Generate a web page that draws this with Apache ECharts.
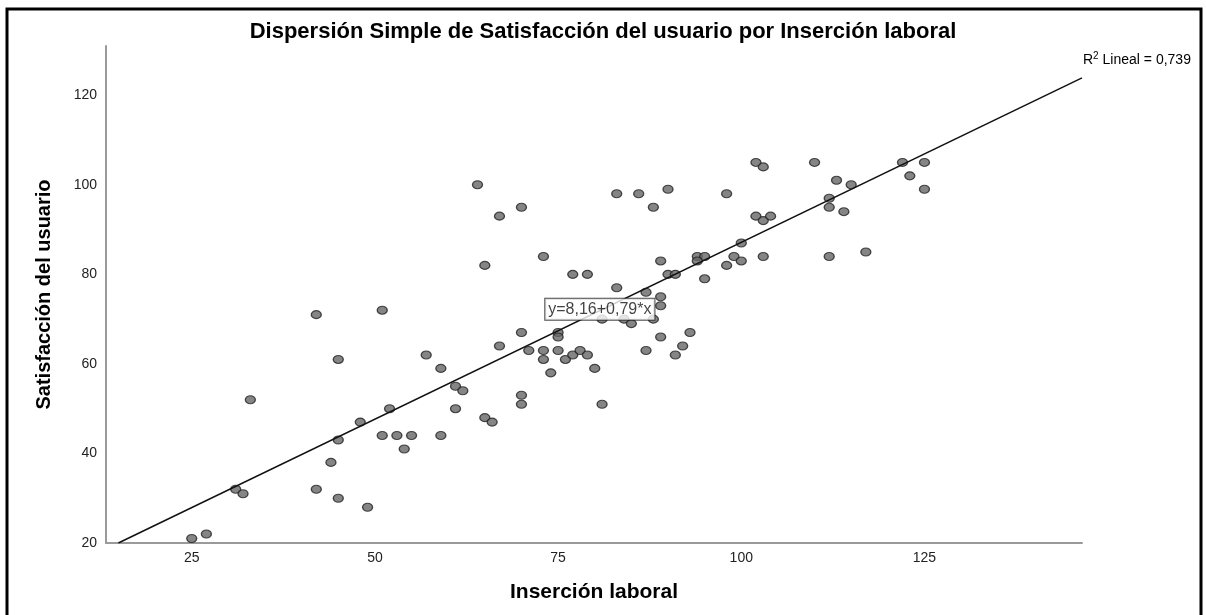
<!DOCTYPE html>
<html>
<head>
<meta charset="utf-8">
<script src="https://cdn.jsdelivr.net/npm/echarts@6/dist/echarts.min.js"></script>
<style>html,body{margin:0;padding:0;background:#fff}#c{width:1206px;height:615px}</style>
</head>
<body>
<div id="c"></div>
<script>
// Inserción laboral (x) and Satisfacción del usuario (y)
const insercion = [42,45,33,45,44,31,32,42,45,25,27,
  51,70,67,71,73,75,73,74,76,75,75,57,59,61,62,61,70,70,65,66,52,48,51,53,55,59,54,49,
  67,70,83,86,90,88,98,73,77,79,83,89,90,91,94,95,94,95,98,99,100,100,77,78,79,80,81,87,89,89,87,89,93,92,91,81,84,85,88,
  102,103,110,122,113,115,112,112,114,102,103,104,103,112,117,125,123,125,
  64,65];
const satisfaccion = [71,61,52,43,38,32,31,32,30,21,22,
  72,67,64,63,63,63,61,58,61,67,66,62,59,55,54,50,53,51,48,47,50,47,44,44,44,44,41,28,
  93,95,98,98,99,95,98,84,80,80,77,83,80,80,84,84,83,79,82,84,83,87,62,63,62,59,51,76,75,73,63,66,67,64,62,70,70,69,70,
  105,104,105,105,101,100,97,95,94,93,92,93,84,84,85,105,102,99,
  100,82];
const xTicks = [25, 50, 75, 100, 125];
const yTicks = [20, 40, 60, 80, 100, 120];
const intercept = 8.16;
const slope = 0.79;
const r2Text = '0,739';
const eqText = 'y=8,16+0,79*x';
const eqAt = [80.7, 72.2];
const xMin = 13.3, xMax = 146.5, yMin = 20, yMax = 131;

const points = insercion.map((x, i) => [x, satisfaccion[i]]);
const lineStartX = (yMin - intercept) / slope;
const fitLine = [[lineStartX, intercept + slope * lineStartX], [xMax, intercept + slope * xMax]];

const FONT = '"Liberation Sans", Arial, sans-serif';
const chart = echarts.init(document.getElementById('c'), null, {renderer: 'canvas'});
chart.setOption({
  animation: false,
  backgroundColor: '#fff',
  title: {
    text: 'Dispersión Simple de Satisfacción del usuario por Inserción laboral',
    left: 'center', top: 16,
    textStyle: {fontFamily: FONT, fontSize: 22, fontWeight: 'bold', color: '#000'}
  },
  grid: {left: 106, right: 124, top: 46, bottom: 72},
  xAxis: {
    type: 'value', min: xMin, max: xMax,
    name: 'Inserción laboral', nameLocation: 'middle', nameGap: 39,
    nameTextStyle: {fontFamily: FONT, fontSize: 21, fontWeight: 'bold', color: '#000'},
    axisLine: {show: true, lineStyle: {color: '#9a9a9a', width: 2}},
    axisTick: {show: false},
    splitLine: {show: false},
    axisLabel: {customValues: xTicks, fontFamily: FONT, fontSize: 14, color: '#222', margin: 8}
  },
  yAxis: {
    type: 'value', min: yMin, max: yMax,
    name: 'Satisfacción del usuario', nameLocation: 'middle', nameGap: 52,
    nameTextStyle: {fontFamily: FONT, fontSize: 20, fontWeight: 'bold', color: '#000'},
    axisLine: {show: true, lineStyle: {color: '#9a9a9a', width: 2}},
    axisTick: {show: false},
    splitLine: {show: false},
    axisLabel: {customValues: yTicks, fontFamily: FONT, fontSize: 14, color: '#222', margin: 9}
  },
  series: [
    {
      type: 'line', data: fitLine, symbol: 'none', silent: true,
      lineStyle: {color: '#111', width: 1.5}, z: 3
    },
    {
      type: 'scatter', data: points,
      symbol: 'path://M0,50A50,50 0 1,0 100,50A50,50 0 1,0 0,50Z',
      symbolSize: [10, 8],
      itemStyle: {color: '#666666', borderColor: '#222', borderWidth: 1.2},
      z: 2
    },
    {
      type: 'scatter', data: [eqAt], symbolSize: 0, silent: true, z: 5,
      label: {
        show: true, position: 'inside', formatter: eqText,
        fontFamily: FONT, fontSize: 16, color: '#111',
        backgroundColor: '#fff', borderColor: '#222', borderWidth: 1,
        padding: [3, 3, 2, 3]
      }
    }
  ],
  graphic: [
    {
      type: 'rect', silent: true, z: 100,
      shape: {x: 7, y: 9, width: 1194, height: 630},
      style: {fill: 'none', stroke: '#000', lineWidth: 3}
    },
    {
      type: 'text', silent: true, left: 1083, top: 51, z: 100,
      style: {
        text: '{a|R}{s|2}{a| Lineal = ' + r2Text + '}',
        rich: {
          a: {fontFamily: FONT, fontSize: 14, color: '#111', lineHeight: 17},
          s: {fontFamily: FONT, fontSize: 10, color: '#111', padding: [0, 0, 8, 0]}
        }
      }
    }
  ]
});
</script>
</body>
</html>
